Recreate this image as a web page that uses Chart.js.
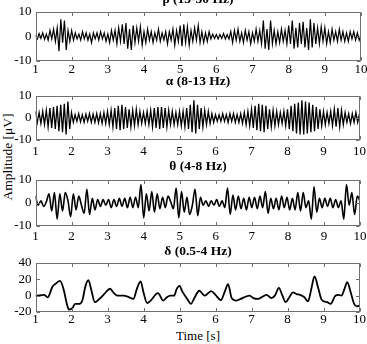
<!DOCTYPE html>
<html>
<head>
<meta charset="utf-8">
<script src="https://cdn.jsdelivr.net/npm/chart.js@4.4.1/dist/chart.umd.min.js"></script>
<style>
  body { margin: 0; background: #fff; width: 367px; height: 344px; position: relative; overflow: hidden; font-family: "Liberation Serif", serif; }
  canvas { position: absolute; left: 0; }
  .ttl { position: absolute; left: 35px; width: 326px; text-align: center; font-weight: bold; font-size: 13.5px; line-height: 14px; z-index: 2; }
  #xlab { position: absolute; left: 35px; width: 326px; top: 329px; text-align: center; font-size: 13px; line-height: 14px; }
  #ylab { position: absolute; left: -42px; top: 150px; width: 100px; text-align: center; font-size: 13.5px; line-height: 14px; transform: rotate(-90deg); }
</style>
</head>
<body>
<div class="ttl" style="top:-8px">β (13-30 Hz)</div>
<div class="ttl" style="top:74px">α (8-13 Hz)</div>
<div class="ttl" style="top:159px">θ (4-8 Hz)</div>
<div class="ttl" style="top:244px">δ (0.5-4 Hz)</div>
<div id="xlab">Time [s]</div>
<div id="ylab">Amplitude [μV]</div>
<canvas id="c1"></canvas>
<canvas id="c2"></canvas>
<canvas id="c3"></canvas>
<canvas id="c4"></canvas>
<script>
// time axis
const timeStart = 1;
const xTicks = [1, 2, 3, 4, 5, 6, 7, 8, 9, 10];

// beta band, one sample every 0.05 s
const betaStep = 0.05;
const betaValues = [
  0.5, -1, 1.2, -0.8, 1.5, -1.2, 1,
  -1.5, 2.5, -1, 3, -2,
  3.5, -6, 7, -2.5, 6.5, -5.5, 2.5,
  -2, 2.5, -1.5, 1.5, -1,
  1, -1.5, 2, -1, 1.5, -1.5, 1, -2.5, 1.5, -1, 1.5, -1.5, 2, -1, 1.5, -2, 1, -2.5, 2.5, -1.5,
  2.5, -3, 3.5, -2,
  5, -3, 5.5, -5, 3, -5.5, 4.5, -2.5,
  3.5, -2, 4, -3.5, 2, -2.5, 3,
  -1.5, 2, -2.5, 1.5, -1.5, 3, -2, 1.5, -1.5, 2, -3, 2, -1.5, 3,
  -3.5, 2.5, -2, 4.5, -4, 5, -2.5, 4, -3.5, 2.5,
  -2, 3.5, -1.5, 4.5, -2.5,
  2, -2.5, 1.5, -2, 2, -1,
  1, -0.8, 0.8, -1, 0.8, -0.8, 1.2, -1, 0.8, -1,
  2, -2.5, 2.5, -1.5, 3, -2,
  1.5, -2.5, 2.5, -1.5, 2, -3, 1.5, -2, 3, -2, 2.5,
  -3, 6.5, -5, 3, -5.5, 6.5, -3,
  2.5, -3, 2, -2.5, 3, -2, 2.5, -3,
  4.5, -3, 6.5, -5, 3.5, -4.5, 5.5, -3, 6, -4.5, 3.5, -5.5, 7, -4.5, 5.5, -3,
  3.5, -3, 4, -2, 3.5, -3, 2, -2.5, 3,
  -1.5, 2, -2, 3, -1.5, 2, -2, 1.5, -2, 2, -1, 2, -1.5, 1.5, -1.5, 1
];

// alpha band, one sample every 0.05 s
const alphaStep = 0.05;
const alphaValues = [
  3, -2, 2.5, -2.5, 3, -3,
  3.5, -4, 4.5, -4.5, 5, -5,
  5.5, -6, 6, -6.5, 6.5, -7.5, 7.5, -5,
  2.5, -2, 1.5, -1.5, 2, -1.8, 1.5, -2, 1.8, -1.5, 2, -2, 1.8, -2, 2, -2.2, 2, -2.5, 2.5, -2.5,
  3, -3, 3.5, -4, 4.5, -5,
  5.5, -5.5, 6, -5, 5, -4.5,
  4, -4, 3.5, -3.5, 4, -3, 3, -2.5,
  2.5, -2.5, 3, -3, 3.5, -4,
  4.5, -4.5, 5, -5, 5, -4.5, 4.5, -4, 3.5, -3,
  3, -3, 2.5, -3, 3, -3.5, 3, -4,
  4.5, -5, 6, -6.5, 8, -7, 6, -5,
  4.5, -4, 3.5, -3, 3, -2.5, 2, -2,
  1.5, -1.5, 1.5, -1.5, 2, -1.5, 1.5, -2, 2, -1.5, 2, -2, 1.5, -2, 2, -2.5, 2.5, -3,
  3, -3.5, 4, -4.5,
  5.5, -5.5, 6.5, -6, 6, -6.5, 5.5, -5,
  4, -4, 3.5, -3.5, 3, -3,
  2.5, -2.5, 3, -3.5,
  4, -5, 5.5, -6, 6.5, -7, 7, -7.5, 8, -7.5, 7.5, -7, 7, -6.5, 6, -6, 5, -5,
  4, -3.5, 3, -3, 2.5, -2.5,
  3, -3.5, 4, -4, 4.5, -4, 3.5, -3,
  2.5, -2, 2, -2.5, 2, -2, 2.5, -2, 2
];

// theta band, one sample every 0.075 s
const thetaStep = 0.075;
const thetaValues = [
  3, -1, 1, -1.5, 0.5, 4, -3.5, 4.5, -7, 4,
  -3.5, 4.5, 1, -6, 4, -3, 3, -1, -4.5, 6,
  -5, 2, -3, 1.5, -1.5, 1.5, -1, 1.5, -2, 1.5,
  -1.5, 2, -1.5, 2, -2, 2.5, -2, 2.5, -2, 8,
  -6.5, 4, -3.5, 5, -4, 4, -2.5, 2.5, -2, 3,
  0.5, -2.5, 6.5, -6.5, 5, -4, 2.5, -5, -1, 6,
  -5.5, 2.5, -1, 1, -1.5, 1, -1, 1.5, -1.5, 1,
  -2, 6.5, -5, 3.5, -3, 3, -2.5, 2, -3, 2.5,
  -2, 2.5, -2.5, 3, -2, 5, -4.5, 2, -2.5, 2,
  -3, 3, -2, 2.5, -3, 2, -3, 4.5, -3.5, 4.5,
  -2, 1, -7, 7, -4, 2, -2, 2, -1.5, 2,
  -2, 1.5, -2, 1, -7, 8, -1, 4.5, -5, 3,
  1
];

// delta band, read at its turning points
const deltaTimes = [
  1.0, 1.15, 1.24, 1.34, 1.47, 1.57, 1.68, 1.78, 1.87, 1.93,
  2.03, 2.1, 2.22, 2.3, 2.39, 2.47, 2.55, 2.65, 2.75, 2.87,
  2.97, 3.07, 3.18, 3.27, 3.45, 3.6, 3.72, 3.82, 3.92, 4.0,
  4.1, 4.2, 4.4, 4.55, 4.65, 4.75, 4.85, 4.92, 5.0, 5.08,
  5.2, 5.32, 5.4, 5.55, 5.7, 5.88, 6.0, 6.15, 6.25, 6.35,
  6.45, 6.58, 6.7, 6.85, 6.95, 7.05, 7.18, 7.3, 7.42, 7.55,
  7.65, 7.76, 7.86, 7.95, 8.05, 8.15, 8.25, 8.35, 8.47, 8.57,
  8.66, 8.75, 8.85, 8.95, 9.1, 9.2, 9.33, 9.42, 9.5, 9.58,
  9.66, 9.75, 9.85, 9.93, 10.0
];
const deltaValues = [
  0, 0.5, 1, -2, 11, 15, 18, 8, -10, -17,
  -15, -10, -10, -6, 12, 19, 7, -8, -5, 0,
  5, 8.5, 3, 0, 0, -2, -4, 9, 17.5, 4,
  -9, -6, 3, -6, -2, 0, 0, 8, 12, 5,
  -3, -10, -4, 6, 0, 5.5, 1, -5.5, 4, 14,
  -3, -6, -4, -1, 0, -3, -4, -1.5, 1, -3,
  0, 9.5, 0, -8, -2, 4, 2, 1, -2, -7,
  8, 23.5, 10, -5, -8, -10, 0, 1, 0, 8,
  16.5, 5, -10, -13, -12
];

const smallTicks = [-10, 0, 10];
const deltaTicks = [-20, 0, 20, 40];

const tickFont = { family: "Liberation Serif", size: 13 };

const framePlugin = {
  id: "frame",
  afterDatasetsDraw(chart) {
    const { ctx, chartArea: a, scales } = chart;
    const l = Math.round(a.left) + 0.5, r = Math.round(a.right) - 0.5;
    const t = Math.round(a.top) + 0.5, b = Math.round(a.bottom) - 0.5;
    ctx.save();
    ctx.strokeStyle = "#707070";
    ctx.lineWidth = 1;
    ctx.strokeRect(l, t, r - l, b - t);
    ctx.beginPath();
    scales.x.ticks.forEach((tk) => {
      const px = Math.round(scales.x.getPixelForValue(tk.value)) + 0.5;
      ctx.moveTo(px, b); ctx.lineTo(px, b - 3.5);
      ctx.moveTo(px, t); ctx.lineTo(px, t + 3.5);
    });
    scales.y.ticks.forEach((tk) => {
      const py = Math.round(scales.y.getPixelForValue(tk.value)) + 0.5;
      ctx.moveTo(l, py); ctx.lineTo(l + 3.5, py);
      ctx.moveTo(r, py); ctx.lineTo(r - 3.5, py);
    });
    ctx.stroke();
    ctx.restore();
  }
};

// drop the label overflow padding so the plot box sits exactly where the layout says
function noPad(s) {
  s.paddingLeft = 0; s.paddingRight = 0; s.paddingTop = 0; s.paddingBottom = 0;
}

function makePanel(id, p) {
  const canvas = document.getElementById(id);
  const padTop = 8;
  const xH = 20;
  canvas.width = 367;
  canvas.height = Math.round(padTop + (p.bottom - p.top) + xH);
  canvas.style.top = (p.top - padTop) + "px";
  const yTicks = p.yTicks;
  new Chart(canvas, {
    type: "line",
    data: {
      datasets: [{
        data: p.points,
        borderColor: "#000",
        borderWidth: p.width,
        pointRadius: 0,
        tension: p.smooth ? 0.4 : 0,
        cubicInterpolationMode: p.smooth ? "monotone" : "default"
      }]
    },
    options: {
      responsive: false,
      animation: false,
      devicePixelRatio: 1,
      layout: { padding: { top: padTop, right: 367 - p.right, left: 0, bottom: 0 } },
      plugins: { legend: { display: false }, tooltip: { enabled: false } },
      scales: {
        x: {
          type: "linear", min: 1, max: 10,
          afterBuildTicks: (s) => { s.ticks = xTicks.map((v) => ({ value: v })); },
          ticks: { color: "#000", font: tickFont, padding: p.xPad, maxRotation: 0, autoSkip: false },
          grid: { display: false, drawTicks: false },
          border: { display: false },
          afterFit: (s) => { s.height = xH; noPad(s); }
        },
        y: {
          type: "linear", min: yTicks[0], max: yTicks[yTicks.length - 1],
          afterBuildTicks: (s) => { s.ticks = yTicks.map((v) => ({ value: v })); },
          ticks: { color: "#000", font: tickFont, padding: 4, autoSkip: false },
          grid: { display: false, drawTicks: false },
          border: { display: false },
          afterFit: (s) => { s.width = 35.5; noPad(s); }
        }
      }
    },
    plugins: [framePlugin]
  });
}

makePanel("c1", {
  top: 11.7, bottom: 61, right: 361, yTicks: smallTicks, width: 1.2, smooth: false, xPad: 1,
  points: betaValues.map((v, i) => ({ x: timeStart + i * betaStep, y: v }))
});
makePanel("c2", {
  top: 96, bottom: 139.5, right: 359.5, yTicks: smallTicks, width: 1.3, smooth: false, xPad: 4,
  points: alphaValues.map((v, i) => ({ x: timeStart + i * alphaStep, y: v }))
});
makePanel("c3", {
  top: 180, bottom: 225.7, right: 360, yTicks: smallTicks, width: 1.6, smooth: true, xPad: 3,
  points: thetaValues.map((v, i) => ({ x: timeStart + i * thetaStep, y: v }))
});
makePanel("c4", {
  top: 263, bottom: 312, right: 359.5, yTicks: deltaTicks, width: 1.8, smooth: true, xPad: 0,
  points: deltaValues.map((v, i) => ({ x: deltaTimes[i], y: v }))
});
</script>
</body>
</html>
